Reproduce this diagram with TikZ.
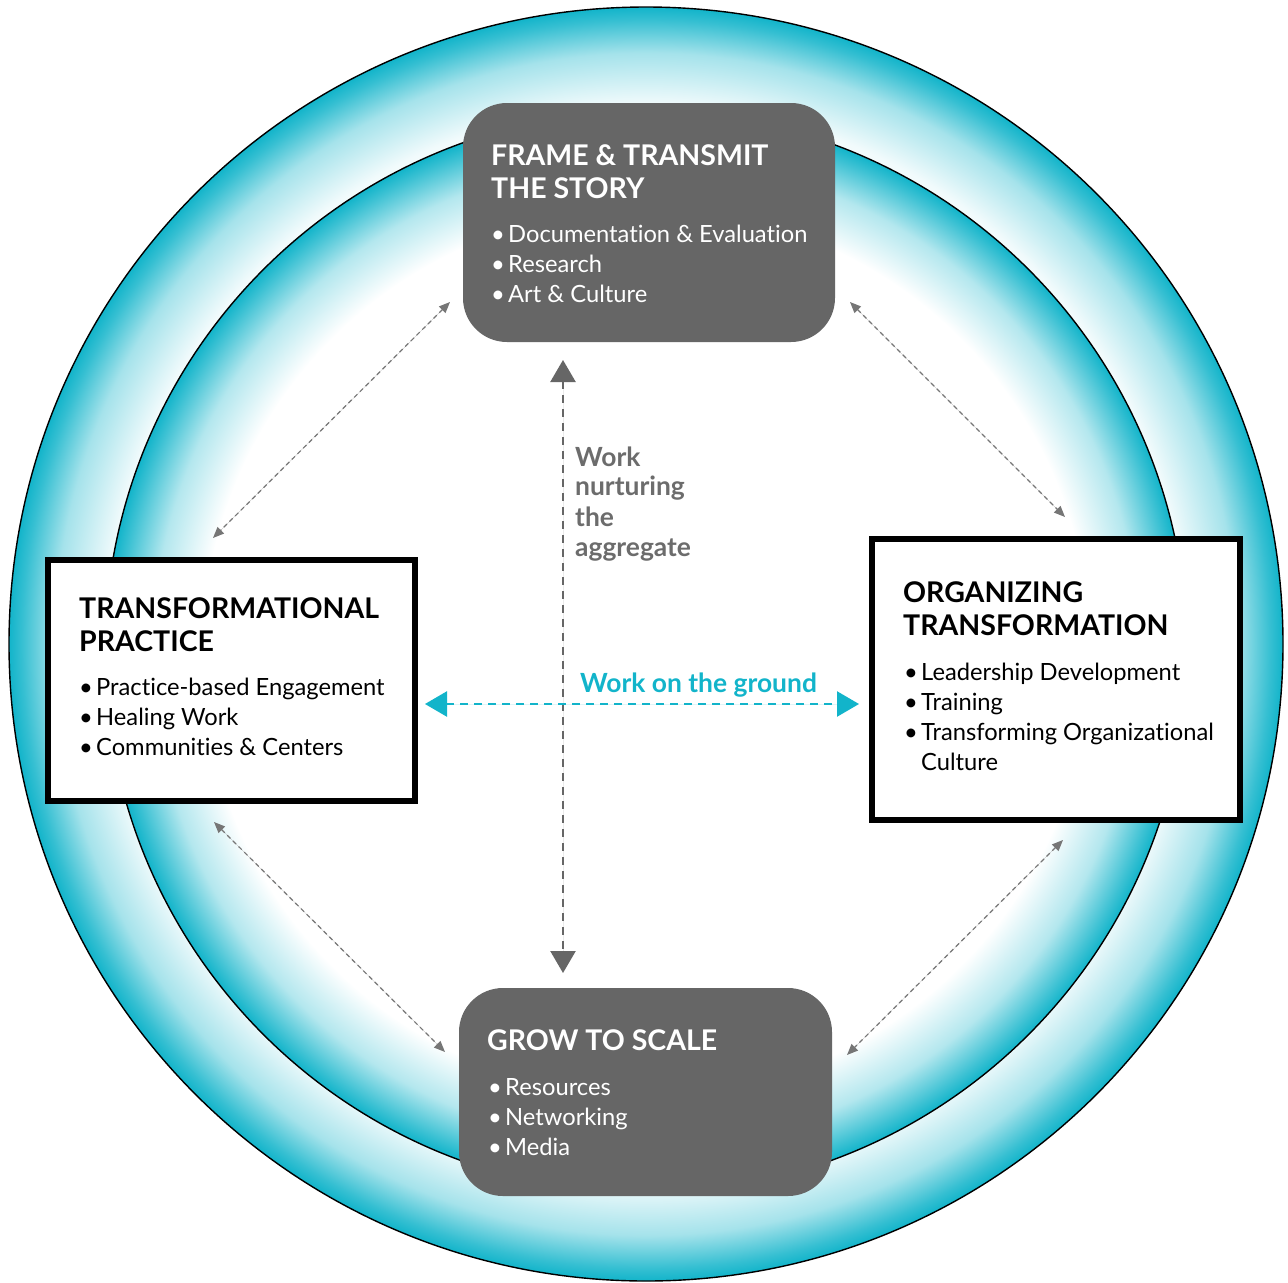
\documentclass[tikz,border=0pt]{standalone}
\usepackage{fontspec}
\setmainfont{Lato}[Ligatures=NoCommon]
\usetikzlibrary{arrows.meta}
\definecolor{tcyan}{RGB}{18,180,202}
\definecolor{boxgray}{RGB}{102,102,102}
\definecolor{txtgray}{RGB}{108,108,108}
\definecolor{dgray}{RGB}{118,118,118}
\pgfdeclareradialshading{outerdisc}{\pgfpoint{0bp}{0bp}}{color(0bp)=(white); color(20bp)=(white); color(21.2bp)=(tcyan!6); color(23.2bp)=(tcyan!38); color(24.5bp)=(tcyan!85); color(25bp)=(tcyan); color(50bp)=(tcyan)}
\pgfdeclareradialshading{innerdisc}{\pgfpoint{0bp}{0bp}}{color(0bp)=(white); color(20.5bp)=(white); color(22.8bp)=(tcyan!32); color(24.4bp)=(tcyan!82); color(25bp)=(tcyan); color(50bp)=(tcyan)}
\newcommand\itm[1]{\makebox[17bp][l]{\textbullet}#1}
\tikzset{
  graybox/.style={rectangle, fill=boxgray, draw=none, rounded corners=44bp, inner sep=0pt},
  framebox/.style={rectangle, fill=white, draw=black, line width=6bp, inner sep=0pt},
  ttl/.style={anchor=base west, inner sep=0pt, font=\fontsize{28.6}{33}\selectfont\bfseries},
  itx/.style={anchor=base west, inner sep=0pt, font=\fontsize{23.8}{30}\selectfont},
  lbl/.style={anchor=base west, inner sep=0pt, font=\fontsize{26.5}{30}\selectfont\bfseries},
  mainarrow/.style={line width=2.4bp, dash pattern=on 8bp off 6bp, {Triangle[length=22bp,width=25bp]}-{Triangle[length=22bp,width=25bp]}},
  diagarrow/.style={draw=dgray, line width=1.2bp, dash pattern=on 4.5bp off 3.5bp, {Triangle[length=11bp,width=9bp]}-{Triangle[length=11bp,width=9bp]}}
}
\begin{document}
\begin{tikzpicture}[x=1bp,y=-1bp]
\useasboundingbox (0,0) rectangle (1288,1283);
\fill[white] (0,0) rectangle (1288,1283);
% discs
\shade[shading=outerdisc] (646,644) circle[radius=637];
\draw[line width=1.4bp] (646,644) circle[radius=637];
\shade[shading=innerdisc] (646,652) circle[radius=541];
\draw[line width=1.4bp] (646,652) circle[radius=541];

% boxes
\node[graybox, minimum width=372bp, minimum height=239bp] (top) at (649,222.5) {};
\node[graybox, minimum width=373bp, minimum height=208bp] (bot) at (645.5,1092) {};
\node[framebox, minimum width=367bp, minimum height=241bp] (left) at (231.5,680.5) {};
\node[framebox, minimum width=368bp, minimum height=281bp] (right) at (1056,679.5) {};

% top box text
\node[ttl, white] (t1) at (491,165) {FRAME \& TRANSMIT};
\node[ttl, white] (t2) at (491,198) {THE STORY};
\node[itx, white] (t3) at (491,242) {\itm{Documentation \& Evaluation}};
\node[itx, white] (t4) at (491,272) {\itm{Research}};
\node[itx, white] (t5) at (491,302) {\itm{Art \& Culture}};

% bottom box text
\node[ttl, white] (b1) at (487,1050) {GROW TO SCALE};
\node[itx, white] (b2) at (488,1095) {\itm{Resources}};
\node[itx, white] (b3) at (488,1125) {\itm{Networking}};
\node[itx, white] (b4) at (488,1155) {\itm{Media}};

% left box text
\node[ttl] (l1) at (79,618) {TRANSFORMATIONAL};
\node[ttl] (l2) at (79,651) {PRACTICE};
\node[itx] (l3) at (79,695) {\itm{Practice-based Engagement}};
\node[itx] (l4) at (79,725) {\itm{Healing Work}};
\node[itx] (l5) at (79,755) {\itm{Communities \& Centers}};

% right box text
\node[ttl] (r1) at (903,602) {ORGANIZING};
\node[ttl] (r2) at (903,635) {TRANSFORMATION};
\node[itx] (r3) at (904,680) {\itm{Leadership Development}};
\node[itx] (r4) at (904,710) {\itm{Training}};
\node[itx] (r5) at (904,740) {\itm{Transforming Organizational}};
\node[itx] (r6) at (921,770) {Culture};

% main arrows
\coordinate (vt) at (563,360);
\coordinate (vb) at (563,973);
\draw[mainarrow, draw=boxgray, fill=boxgray] (vt) -- (vb);
\coordinate (hl) at (425,704);
\coordinate (hr) at (859,704);
\draw[mainarrow, draw=tcyan, fill=tcyan] (hl) -- (hr);

\node[lbl, txtgray] (w1) at (575,466) {Work};
\node[lbl, txtgray] (w2) at (575,495) {nurturing};
\node[lbl, txtgray] (w3) at (575,526) {the};
\node[lbl, txtgray] (w4) at (575,556) {aggregate};
\node[lbl, tcyan] (g1) at (580,692) {Work on the ground};

% diagonal arrows
\coordinate (d1a) at (450,302); \coordinate (d1b) at (213,538);
\coordinate (d2a) at (850,302); \coordinate (d2b) at (1065,517);
\coordinate (d3a) at (214,822); \coordinate (d3b) at (445,1052);
\coordinate (d4a) at (1063,840); \coordinate (d4b) at (847,1055);
\draw[diagarrow, fill=dgray] (d1a) -- (d1b);
\draw[diagarrow, fill=dgray] (d2a) -- (d2b);
\draw[diagarrow, fill=dgray] (d3a) -- (d3b);
\draw[diagarrow, fill=dgray] (d4a) -- (d4b);
\end{tikzpicture}
\end{document}
